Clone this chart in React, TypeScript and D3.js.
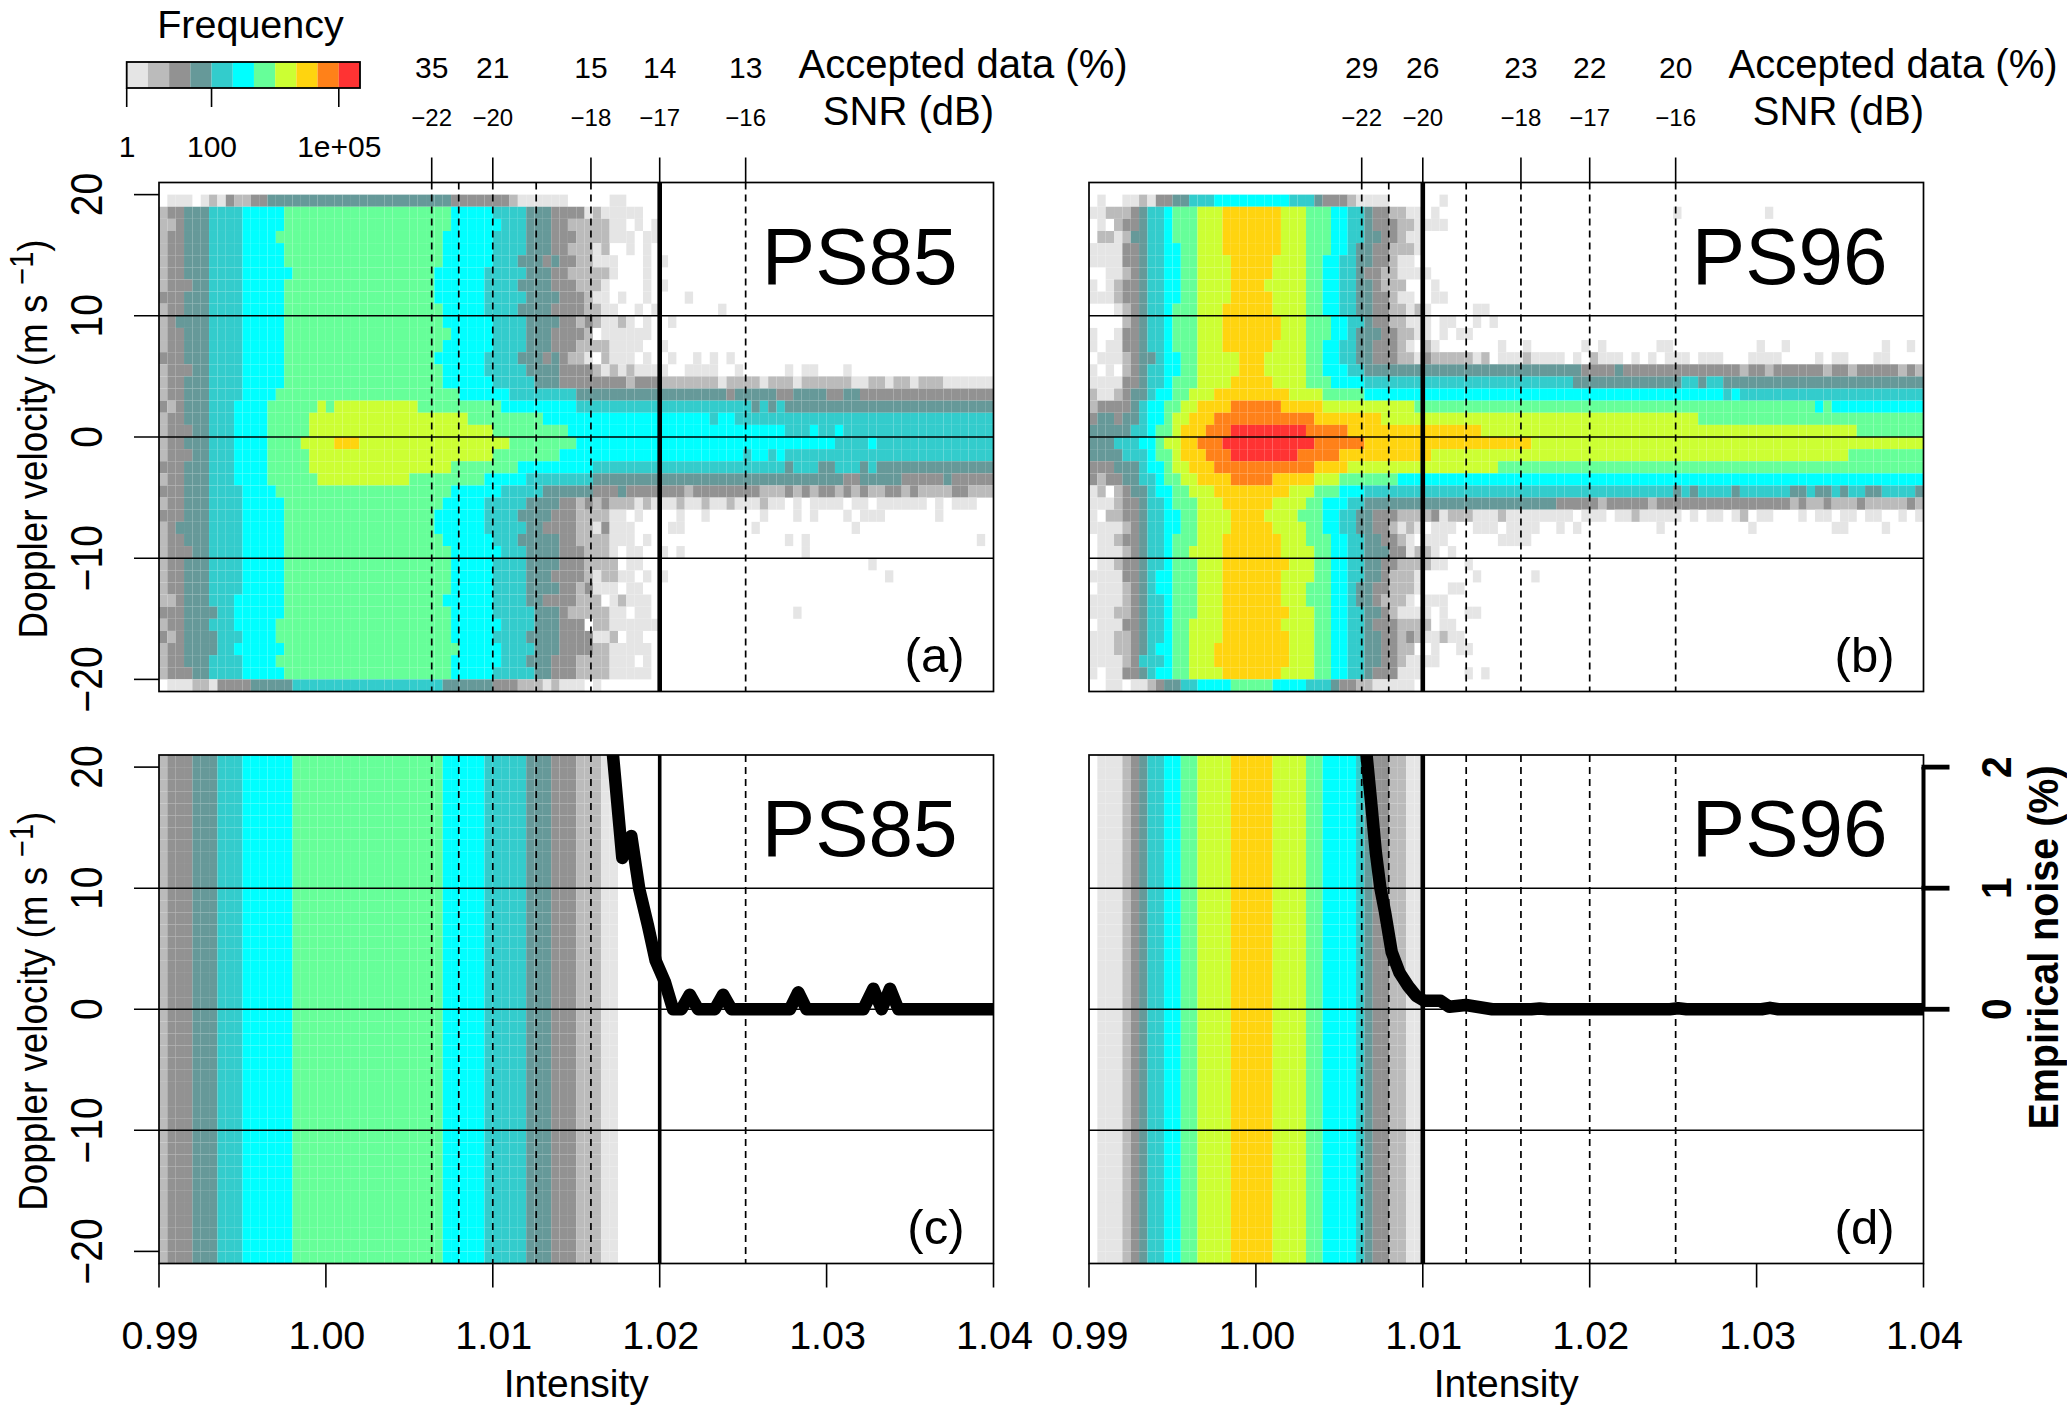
import React from "react";
import * as d3 from "d3";

// ---------- data ----------
const levelColors = ["none", "#E5E5E5", "#BBBBBB", "#929292", "#669999", "#33CCCC", "#00FFFF", "#66FF99", "#CCFF33", "#FFD40F", "#FF8119", "#FF3333"];
const legendTicks = [1, 100, 100000];
const legendTickLabels = ["1", "100", "1e+05"];
const intensityTicks = [0.99, 1.0, 1.01, 1.02, 1.03, 1.04];
const velocityTicks = [20, 10, 0, -10, -20];
const snrPositions = [1.00634, 1.01, 1.01588, 1.02, 1.02515];
const snrLabels = ["\u221222", "\u221220", "\u221218", "\u221217", "\u221216"];
const acceptedPS85 = ["35", "21", "15", "14", "13"];
const acceptedPS96 = ["29", "26", "23", "22", "20"];
const dashedPS85 = [1.00634, 1.00796, 1.01, 1.0126, 1.01588, 1.02515];
const dashedPS96 = [1.00634, 1.00796, 1.0126, 1.01588, 1.02, 1.02515];
const thresholdPS85 = 1.02;
const thresholdPS96 = 1.01;
const noiseTicks = [0, 1, 2];

// frequency class per (velocity row, intensity bin); rows from +20 m/s down to -20 m/s, trailing zeros omitted
const rowsPS85 = [
  "0111012132 2334444444 4444444444 4444433333 3321111110 0000110000",
  "2334445555 6666677777 7777777777 7777766666 5555444333 3121111100",
  "2234445555 6666677777 7777777777 7777766666 6555444332 2222110101",
  "2334445555 6666777777 7777777777 7777666666 5555444333 2222111011",
  "2334445555 6666677777 7777777777 7777666666 5555444332 2212001010",
  "2334445555 6666677777 7777777777 7777666666 5554443433 2211100010 1",
  "2334445555 6666667777 7777777777 7776666665 5555444332 2222100010",
  "2333445555 6666677777 7777777777 7776666665 5554444333 2221000010 1",
  "3334445555 6666677777 7777777777 7776666665 5555444433 3211010010 0001",
  "2334445555 6666677777 7777777777 7777666665 5554444333 3221100101 00000001",
  "2344445555 6666677777 7777777777 7777666666 5555444433 2321121010 01",
  "2334445555 6666677777 7777777777 7777766666 5555444333 3201111110",
  "2334445555 6666677777 7777777777 7777666666 5555444333 2222111100 1",
  "3334445555 6666677777 7777777777 7776666665 5554443432 2102111010 0100101010",
  "2333445555 6666677777 7777777777 7777666665 5555444433 3321212111 1001111001 0000010110 0010",
  "2334445555 6666677777 7777777777 7777666666 5555544433 3333332333 2222222122 2212221222 2221122122 1222111111",
  "2334445555 6666777777 7777777777 7777776666 6655555555 4444444444 4444444434 4444334444 3344333333 3333333333",
  "3234445556 6667777778 7888888888 8777777777 7666666666 5555555555 5555555555 5454544444 4444444444 4444444444",
  "2334445556 6667777788 8888888888 8888888777 7777776666 6666666666 6666665665 5555555555 5555555555 5555555555",
  "2333445556 6667777788 8888888888 8888888888 7777777776 6666666666 6666666666 6666655565 5655555555 5555555555",
  "2334445556 6667777888 8999888888 8888888888 8877777777 6666666666 6666666666 6666666666 6555565555 5555555555",
  "2333445556 6667777788 8888888888 8888888888 7777777766 6666666666 6666666666 5665655555 5555555555 5555555555",
  "3334445556 6667777788 8888888888 8888877777 7776666666 6655555555 5555555555 5555545554 4555454444 4444444444",
  "2334445556 6667777778 8888888888 7777777776 6666555555 5544444444 4444444444 4444444444 4433444443 3333433333",
  "3334445555 6666777777 7777777777 7777766666 6555554444 4433343333 3332333333 3322232323 3232322332 3222233222",
  "2334445555 6666677777 7777777777 7777666665 5555444433 2323222121 1121121121 1121101011 1101101111 1101011100",
  "3334445555 6666677777 7777777777 7776666665 5554444333 2222110100 0010010000 0010001010 0010111000 0001",
  "2344445555 6666677777 7777777777 7776666665 5555443333 2213111000 0110000000 0100000000 0001",
  "2334445555 6666677777 7777777777 7777666666 5554444433 2222111010 0000000000 0000010100 0000000000 0000000010",
  "2333445555 6666677777 7777777777 7777766666 6555444433 3222101100 1010000000 0000000100",
  "2334445555 6666677777 7777777777 7777766666 5555444433 3222201100 0000000000 0000000000 0000010000",
  "2334445555 6666677777 7777777777 7777766666 5555444333 3212211010 1000000000 0000000000 0000000100",
  "2334445555 6666677777 7777777777 7777766666 5555444433 2311101100",
  "2234445556 6666677777 7777777777 7777666666 5555443333 2220121110",
  "3334444556 6666677777 7777777777 7777766666 5555544432 2222110110 0000000000 0000001",
  "2334445556 6666777777 7777777777 7777766666 6555544433 3022111111",
  "3234444555 6666777777 7777777777 7777766666 5555444433 3311201100",
  "2334444556 6666677777 7777777777 7777776666 6555544433 3322111110",
  "2334445555 6666777777 7777777777 7777766666 6555444333 2222111010",
  "2333445555 6666677777 7777777777 7777766666 5555544333 2222111110",
  "0111221333 3444445555 5555555555 5555444444 3332221211 1010000000",
];

const rowsPS96 = [
  "0100112133 4455566666 6666555433 3211110000 0010000000",
  "1122234556 7778889999 9998887776 6554332211 0100000000 0000000000 0000000000 1000000000 0100000000",
  "0102334556 7778889999 9998887776 6554333221 1110000000",
  "0221244556 7778889999 9998887776 6554433211",
  "1111334556 6778889999 9998887776 6544332221",
  "1111334556 6778888999 9988887766 5544332110",
  "0011234556 6778888999 9988887766 5543322111 1000000000",
  "1012334556 6778888999 9888887766 5544322200 0100000000",
  "1112334556 6778888999 9988887766 5544332110 0110000000",
  "0001234556 7778889999 9988887766 5544332212 1000001100",
  "0000234556 7778889999 9998887776 6554332211 1011001010",
  "1001334556 7778889999 9998887776 6544433221 1010110000",
  "1011334556 7778889999 9988887766 5544333210 2100000001 0010000001 0100000011 0000000000 1001000000 0000010010",
  "0111234456 6778888899 9888887766 5544333221 3222221201 1121111010 2111010101 1101110001 1110000101 1000110000",
  "1010234556 6778888899 9888887766 6554444444 4444444444 4444444443 3334333333 3333333323 3233333323 3233333232",
  "1111334556 7778888999 9988887776 6665555555 5555555555 5555555544 4444444444 4554554444 4444444444 4444444444",
  "2112344566 7788899999 9999888877 7776666666 6666666666 6666666666 6666666666 6666665655 5555555555 5555555555",
  "2333345667 7889999aaa aaa9999988 8888888887 7777777777 7777777777 7777777777 7777777777 7777777676 6666666666",
  "3443445667 88999aaaaa aaaaaaa999 9999988888 8888888888 8888888888 8888888888 8887777777 7777777777 7777777777",
  "4444455677 8999aaabbb bbbbbbaaaa a999999999 9999999888 8888888888 8888888888 8888888888 8888888888 8877777777",
  "4445556678 899aaabbbb bbbbbbbaaa aaa9999999 9999999999 9998888888 8888888888 8888888888 8888888888 8888888888",
  "4444555677 8999aaabbb bbbbbaaaaa 9999999999 9888888888 8888888888 8888888888 8888888888 8888888888 8777777777",
  "3334445667 88999aaaaa aaaaaaa999 9888888888 8888888887 7777777777 7777777777 7777777777 7777777777 7777777777",
  "3233445567 7889999aaa aa99999888 7777777666 6666666666 6666666666 6666666666 6666666666 6666666666 6666666666",
  "1202344566 7788899999 9999888777 6665555555 5555555555 5555555555 5555555555 4545555455 5555445445 4554455554",
  "1112334556 7778889999 9988887766 6554444444 4444444444 4444443333 3233333233 3333333333 3333232232 2232222232",
  "1022334556 6778888999 9888877766 5544333222 2312221112 1111111101 1101121111 1010110120 1100010110 1101100101",
  "1111234556 6778888999 9988887766 5544332121 0111001110 1111001010 0000000010 0000000001 0000000001 1000010000",
  "0112334556 7778889999 9998887776 6554433210 1110000001 1110000000",
  "0111234556 7788889999 9998888776 6554443312 2101000000",
  "0112334556 7778889999 9999888776 6554433222 2110010000",
  "1111334566 7778889999 9998888776 6554432221 0000001000 0001",
  "0111234566 7778889999 9998887776 6544332221 0001100000",
  "1111234556 7778889999 9998887776 6544322210 1110000000",
  "1112234556 7778889999 9999888776 6554432111 1010011000",
  "0111334556 7788889999 9998888776 6554333222 2011000000",
  "1112234556 7788889999 9999888776 6554433232 1121100000",
  "1112234566 7788899999 9999888776 6554433220 0100110000",
  "1111235556 7788899999 9999888776 6554433211 1100000000",
  "1011334566 7788889999 9998888776 6554333111 0000010100",
  "0011011234 4556666777 7766665554 3322111110",
];

const profilePS85 = "2333444555 6666667777 7777777777 7777666665 5555444333 2221100000";
const profilePS96 = "0111234556 6778888999 9988887766 6654332211";

const noiseIntensityPS85 = [1.0166, 1.0172, 1.01776, 1.0183, 1.01878, 1.0193, 1.01976, 1.0203, 1.0208, 1.0213, 1.0218, 1.0223, 1.0233, 1.0238, 1.0243, 1.0278, 1.0283, 1.0288, 1.0322, 1.0328, 1.0333, 1.0338, 1.0343, 1.04];
const noiseValuesPS85 = [2.93, 2.1, 1.25, 1.43, 0.99, 0.69, 0.4, 0.23, 0, 0, 0.12, 0, 0, 0.12, 0, 0, 0.14, 0, 0, 0.17, 0, 0.17, 0, 0];
const noiseIntensityPS96 = [1.006, 1.00663, 1.00691, 1.00719, 1.00746, 1.00774, 1.00814, 1.00861, 1.00913, 1.0096, 1.01008, 1.01107, 1.01159, 1.01258, 1.01416, 1.0165, 1.017, 1.0175, 1.0248, 1.0253, 1.0258, 1.0303, 1.0308, 1.0313, 1.04];
const noiseValuesPS96 = [3, 2.1, 1.7, 1.29, 1.0, 0.8, 0.47, 0.3, 0.19, 0.11, 0.07, 0.07, 0.02, 0.035, 0, 0, 0.006, 0, 0, 0.008, 0, 0, 0.012, 0, 0];

// ---------- helpers ----------
const FONT = "'Liberation Sans', Arial, sans-serif";
const parseRow = (s: string) =>
  s.replace(/ /g, "").padEnd(100, "0").split("").map((c) => parseInt(c, 16));
const BIN_W = 0.0005;
const TOP_V = 20;

type PanelProps = {
  left: number; right: number; top: number; bottom: number;
  rows: number[][]; rowTop: number;
  name: string; tag: string;
  dashed: number[]; threshold: number;
  yAxis: boolean; xAxis: boolean;
  topAxis?: string[];
  noise?: { xs: number[]; ys: number[] };
  id: string;
};

function Panel(p: PanelProps) {
  const x = d3.scaleLinear().domain([0.99, 1.04]).range([p.left, p.right]);
  const y = d3.scaleLinear().domain([-21, 21]).range([p.bottom, p.top]);
  const noiseY = d3.scaleLinear().domain([0, 2]).range([y(0), y(20)]);
  const line = d3.line<number>()
    .x((_, i) => x(p.noise!.xs[i]))
    .y((d) => noiseY(d));
  const tickLen = 25;
  const nameSize = 80;
  return (
    <g fontFamily={FONT} fill="black">
      <clipPath id={p.id}>
        <rect x={p.left} y={p.top} width={p.right - p.left} height={p.bottom - p.top} />
      </clipPath>
      {p.rows.map((row, r) =>
        row.map((lv, c) =>
          lv === 0 ? null : (
            <rect
              key={r + "-" + c}
              x={x(0.99 + c * BIN_W)}
              y={y(p.rowTop - r)}
              width={x(BIN_W) - x(0)}
              height={y(0) - y(1)}
              fill={levelColors[lv]}
            />
          )
        )
      )}
      {velocityTicks.filter((v) => Math.abs(v) < 20).map((v) => (
        <line key={v} x1={p.yAxis ? p.left - tickLen : p.left} x2={p.right} y1={y(v)} y2={y(v)} stroke="black" strokeWidth={1.6} />
      ))}
      {p.dashed.map((d) => (
        <line key={d} x1={x(d)} x2={x(d)} y1={p.top} y2={p.bottom} stroke="black" strokeWidth={1.7} strokeDasharray="7,5" />
      ))}
      <line x1={x(p.threshold)} x2={x(p.threshold)} y1={p.top} y2={p.bottom} stroke="black" strokeWidth={p.id === "c" ? 3.6 : 4.6} />
      {p.noise && (
        <path
          d={line(p.noise.ys) || ""}
          fill="none"
          stroke="black"
          strokeWidth={12.5}
          strokeLinejoin="round"
          strokeLinecap="butt"
          clipPath={`url(#${p.id})`}
        />
      )}
      <rect x={p.left} y={p.top} width={p.right - p.left} height={p.bottom - p.top} fill="none" stroke="black" strokeWidth={1.7} />
      {p.yAxis && velocityTicks.map((v) => (
        <g key={v}>
          {Math.abs(v) === 20 && <line x1={p.left - tickLen} x2={p.left} y1={y(v)} y2={y(v)} stroke="black" strokeWidth={1.6} />}
          <text
            transform={`translate(102,${y(v)}) rotate(-90) scale(1,1.12)`}
            textAnchor="middle"
            fontSize={39}
          >
            {v < 0 ? "\u2212" + Math.abs(v) : String(v)}
          </text>
        </g>
      ))}
      {p.yAxis && (
        <text
          transform={`translate(47,${(p.top + p.bottom) / 2 + 2}) rotate(-90) scale(0.97,1.08)`}
          textAnchor="middle"
          fontSize={38}
        >
          Doppler velocity (m s
          <tspan dx={10} dy={-13} fontSize={30}>{"\u22121"}</tspan>
          <tspan dy={13}>)</tspan>
        </text>
      )}
      {p.xAxis && (
        <g>
          {intensityTicks.map((t) => (
            <g key={t}>
              <line x1={x(t)} x2={x(t)} y1={p.bottom} y2={p.bottom + 24} stroke="black" strokeWidth={1.6} />
              <text x={x(t) + 1} y={p.bottom + 85} textAnchor="middle" fontSize={39.5}>{t.toFixed(2)}</text>
            </g>
          ))}
          <text x={(p.left + p.right) / 2} y={p.bottom + 133} textAnchor="middle" fontSize={39}>Intensity</text>
        </g>
      )}
      {p.topAxis && (
        <g>
          {snrPositions.map((s, i) => (
            <g key={s}>
              <line x1={x(s)} x2={x(s)} y1={p.top - 25} y2={p.top} stroke="black" strokeWidth={1.6} />
              <text x={x(s)} y={p.top - 105} textAnchor="middle" fontSize={30}>{p.topAxis![i]}</text>
              <text x={x(s)} y={p.top - 57} textAnchor="middle" fontSize={24}>{snrLabels[i]}</text>
            </g>
          ))}
          <text x={p.right - 195} y={p.top - 105} fontSize={40}>Accepted data (%)</text>
          <text x={p.right + 0.5} y={p.top - 58} textAnchor="end" fontSize={40}>SNR (dB)</text>
        </g>
      )}
      <text x={p.right - 36} y={p.top + 101} textAnchor="end" fontSize={nameSize}>{p.name}</text>
      <text x={p.right - 29} y={p.bottom - 20} textAnchor="end" fontSize={49}>{p.tag}</text>
    </g>
  );
}

function Legend() {
  const scale = d3.scaleLog().domain([1, Math.pow(10, 5.5)]).range([126.7, 360]);
  const cells = d3.range(11).map((i) => ({ from: Math.pow(10, i / 2), to: Math.pow(10, (i + 1) / 2), lv: i + 1 }));
  return (
    <g fontFamily={FONT}>
      <text x={250.5} y={38} textAnchor="middle" fontSize={39.5}>Frequency</text>
      {cells.map((c) => (
        <rect key={c.lv} x={scale(c.from)} y={62} width={scale(c.to) - scale(c.from)} height={26} fill={levelColors[c.lv]} />
      ))}
      <rect x={126.7} y={62} width={233.3} height={26} fill="none" stroke="black" strokeWidth={1.8} />
      {legendTicks.map((t, i) => (
        <g key={t}>
          <line x1={scale(t)} x2={scale(t)} y1={88} y2={107} stroke="black" strokeWidth={1.6} />
          <text x={scale(t) + 0.5} y={156.5} textAnchor="middle" fontSize={30}>{legendTickLabels[i]}</text>
        </g>
      ))}
    </g>
  );
}

function RightAxis({ xPos, top, bottom }: { xPos: number; top: number; bottom: number }) {
  const y = d3.scaleLinear().domain([-21, 21]).range([bottom, top]);
  const noiseY = d3.scaleLinear().domain([0, 2]).range([y(0), y(20)]);
  return (
    <g fontFamily={FONT} fontWeight="bold">
      <line x1={xPos} x2={xPos} y1={noiseY(2)} y2={noiseY(0)} stroke="black" strokeWidth={4} />
      {noiseTicks.map((t) => (
        <g key={t}>
          <line x1={xPos - 2} x2={xPos + 26} y1={noiseY(t)} y2={noiseY(t)} stroke="black" strokeWidth={4.8} />
          <text transform={`translate(2011,${noiseY(t)}) rotate(-90) scale(1,1.08)`} textAnchor="middle" fontSize={39}>{t}</text>
        </g>
      ))}
      <text transform={`translate(2058,${(767 + 1128) / 2}) rotate(-90) scale(1,1.06)`} textAnchor="middle" fontSize={39.5}>Empirical noise (%)</text>
    </g>
  );
}

export default function App() {
  const a = rowsPS85.map(parseRow);
  const b = rowsPS96.map(parseRow);
  const c = d3.range(42).map(() => parseRow(profilePS85));
  const d = d3.range(42).map(() => parseRow(profilePS96));
  const leftCol = { left: 159, right: 993.5 };
  const rightCol = { left: 1089, right: 1923.5 };
  const upper = { top: 182.5, bottom: 691.5 };
  const lower = { top: 755, bottom: 1263.5 };
  return (
    <svg width={2067} height={1407} viewBox="0 0 2067 1407" style={{ position: "absolute", left: 0, top: 0, display: "block", background: "white" }}>
      <Legend />
      <Panel id="a" {...leftCol} {...upper} rows={a} rowTop={TOP_V} name="PS85" tag="(a)" dashed={dashedPS85} threshold={thresholdPS85} yAxis xAxis={false} topAxis={acceptedPS85} />
      <Panel id="b" {...rightCol} {...upper} rows={b} rowTop={TOP_V} name="PS96" tag="(b)" dashed={dashedPS96} threshold={thresholdPS96} yAxis={false} xAxis={false} topAxis={acceptedPS96} />
      <Panel id="c" {...leftCol} {...lower} rows={c} rowTop={21} name="PS85" tag="(c)" dashed={dashedPS85} threshold={thresholdPS85} yAxis xAxis noise={{ xs: noiseIntensityPS85, ys: noiseValuesPS85 }} />
      <Panel id="d" {...rightCol} {...lower} rows={d} rowTop={21} name="PS96" tag="(d)" dashed={dashedPS96} threshold={thresholdPS96} yAxis={false} xAxis noise={{ xs: noiseIntensityPS96, ys: noiseValuesPS96 }} />
      <RightAxis xPos={1923.5} top={lower.top} bottom={lower.bottom} />
    </svg>
  );
}
